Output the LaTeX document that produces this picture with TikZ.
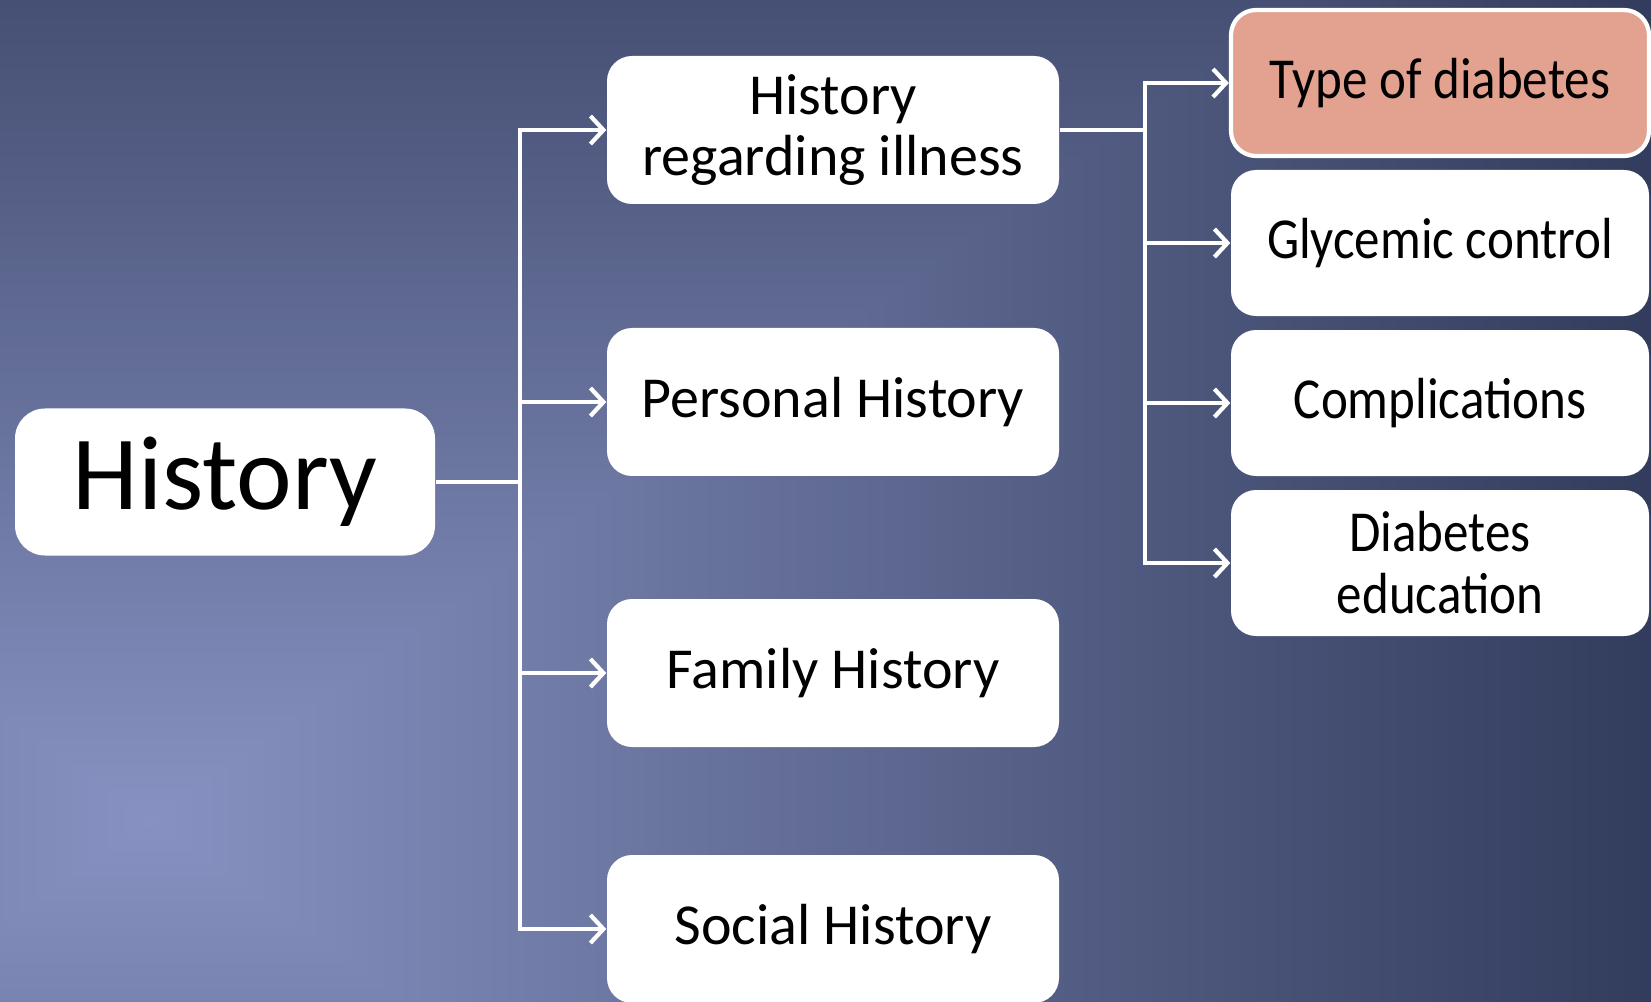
\documentclass[tikz,border=0pt]{standalone}
\usepackage{fontspec}
\setmainfont{Carlito}
\newfontfamily\leaffont[FakeStretch=0.88]{Carlito}
\usepackage{tikz}
\usetikzlibrary{arrows.meta, positioning}
\definecolor{pinkbox}{HTML}{E3A190}
% rectangular path gradient of the slide, light near the lower left
\pgfdeclarefunctionalshading{slidebg}{\pgfpointorigin}{\pgfpoint{100bp}{100bp}}{}{
  25 sub 50 div 0.181 sub abs 0.819 div
  exch 25 sub 50 div 0.091 sub abs 0.6966 div
  2 copy lt {exch} if pop
  dup 65 mul 135 exch sub 255 div
  exch dup 66 mul 146 exch sub 255 div
  exch 78 mul 194 exch sub 255 div
}
\tikzstyle{topic} = [rectangle, rounded corners=0.3cm, minimum width=4.2cm, minimum height=1.47cm, text centered, fill=white, font=\fontsize{30}{32}\selectfont]
\tikzstyle{branch} = [rectangle, rounded corners=0.25cm, minimum width=4.52cm, minimum height=1.48cm, text centered, align=center, fill=white, font=\fontsize{16.5}{17.6}\selectfont]
\tikzstyle{leaf} = [rectangle, rounded corners=0.25cm, minimum width=4.18cm, minimum height=1.46cm, text centered, align=center, fill=white, font=\leaffont\fontsize{16.5}{17.6}\selectfont]
\tikzstyle{line} = [white, line width=1.2pt]
\tikzstyle{arrow} = [white, line width=1.2pt, -{Straight Barb[length=1.3mm, width=2.8mm, line width=1.2pt]}]

\begin{document}
\begin{tikzpicture}[node distance=2.72cm]
\useasboundingbox (0,0) rectangle (16.51,10.01);
\shade[shading=slidebg] (0,0) rectangle (16.51,10.01);

\node (hist) [topic] at (2.25,5.19) {History};
\node (ill)  [branch] at (8.33,8.71) {History\\regarding illness};
\node (pers) [branch, below of=ill] {Personal History};
\node (fam)  [branch, below of=pers, yshift=0.01cm] {Family History};
\node (soc)  [branch, below of=fam, yshift=0.16cm] {Social History};
\node (type) [leaf, fill=pinkbox, draw=white, line width=1.2pt] at (14.40,9.18) {Type of diabetes};
\node (glyc) [leaf, below of=type, node distance=1.6cm] {Glycemic control};
\node (comp) [leaf, below of=glyc, node distance=1.6cm] {Complications};
\node (edu)  [leaf, below of=comp, node distance=1.6cm] {Diabetes\\education};

\coordinate (j1) at (5.2,0);
\coordinate (j2) at (11.45,0);

\draw [line] (hist) -- (hist -| j1);
\draw [arrow] (hist -| j1) |- (ill);
\draw [arrow] (hist -| j1) |- (pers);
\draw [arrow] (hist -| j1) |- (fam);
\draw [arrow] (hist -| j1) |- (soc);
\draw [line] (ill) -- (ill -| j2);
\draw [arrow] (ill -| j2) |- (type);
\draw [arrow] (ill -| j2) |- (glyc);
\draw [arrow] (ill -| j2) |- (comp);
\draw [arrow] (ill -| j2) |- (edu);
\end{tikzpicture}
\end{document}
